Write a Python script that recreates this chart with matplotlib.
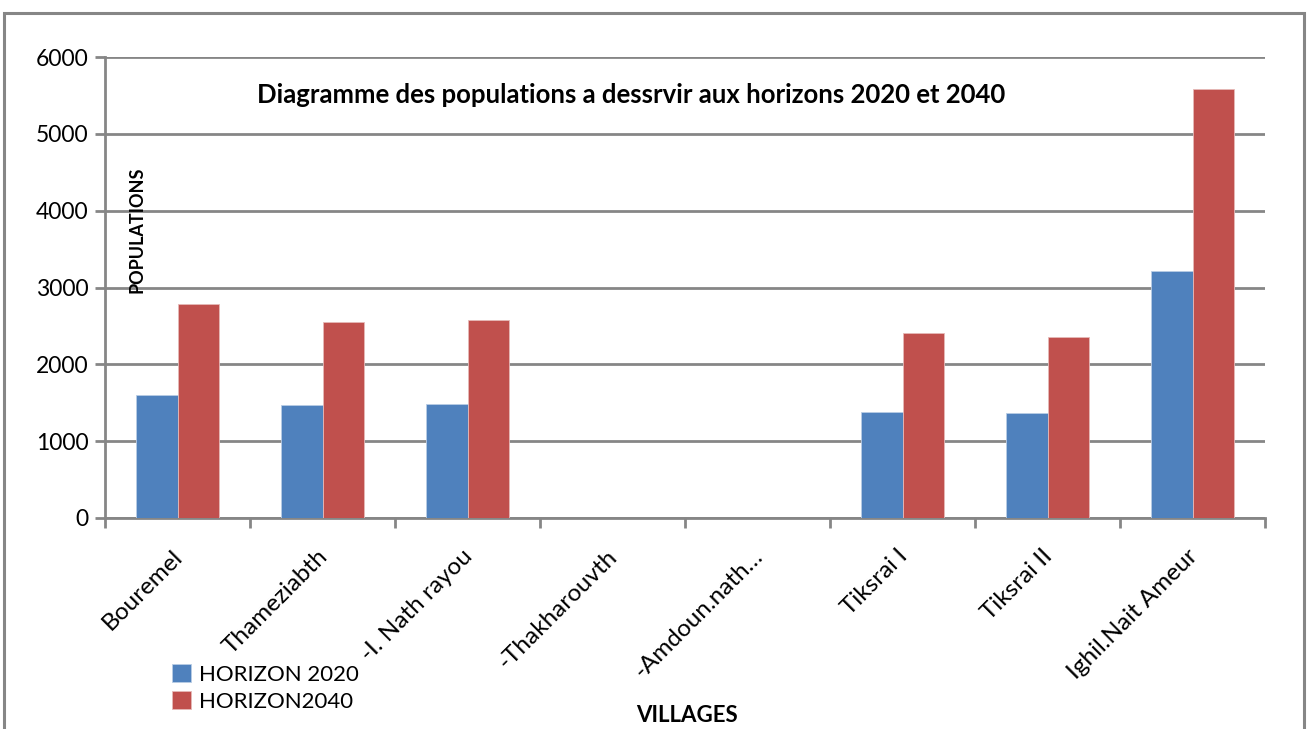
import matplotlib
matplotlib.use("Agg")
import matplotlib.pyplot as plt
import numpy as np
from matplotlib.patches import Rectangle

villages = ["Bouremel", "Thameziabth", "-I. Nath rayou", "-Thakharouvth",
            "-Amdoun.nath…", "Tiksrai I", "Tiksrai II", "Ighil.Nait Ameur"]
horizon_2020 = [1600, 1470, 1485, 0, 0, 1380, 1365, 3215]
horizon_2040 = [2790, 2555, 2575, 0, 0, 2410, 2360, 5585]
series_names = ["HORIZON 2020", "HORIZON2040"]
yticks = [0, 1000, 2000, 3000, 4000, 5000, 6000]

BLUE = "#4F81BD"
RED = "#C0504D"
GRID = "#868686"
FONT = "Lato"

W, H = 1308, 729
fig = plt.figure(figsize=(W / 100, H / 100), dpi=100)
# outer border
fig.patches.append(Rectangle((4 / W, -0.1), (1304 - 4) / W, 1.1 - 13 / H,
                             transform=fig.transFigure, fill=False,
                             edgecolor=GRID, linewidth=2.2, zorder=0))

ax = fig.add_axes([105 / W, 1 - 518 / H, (1265 - 105) / W, (518 - 57) / H])
x = np.arange(len(villages))
bw = 0.283
ax.bar(x - bw / 2, horizon_2020, bw, color=BLUE, label=series_names[0], zorder=3,
       edgecolor="#B9CDE5", linewidth=0.6)
ax.bar(x + bw / 2, horizon_2040, bw, color=RED, label=series_names[1], zorder=3,
       edgecolor="#E6B9B8", linewidth=0.6)

ax.set_xlim(-0.5, len(villages) - 0.5)
ax.set_ylim(0, 6000)
ax.set_yticks(yticks)
ax.set_yticklabels([str(v) for v in yticks], fontsize=16.5, family=FONT)
ax.yaxis.grid(True, color=GRID, linewidth=2, zorder=0)
ax.set_axisbelow(True)
for s in ["top", "right"]:
    ax.spines[s].set_visible(False)
for s in ["left", "bottom"]:
    ax.spines[s].set_color(GRID)
    ax.spines[s].set_linewidth(2)
ax.tick_params(axis="y", length=7, width=2, color=GRID, pad=5)

# x ticks at category boundaries
ax.set_xticks(np.arange(len(villages) + 1) - 0.5)
ax.set_xticklabels([])
ax.tick_params(axis="x", length=7, width=2, color=GRID)
for i, name in enumerate(villages):
    ax.text(i - 0.04, -360, name, rotation=45, ha="right", va="top",
            rotation_mode="anchor", fontsize=17.5, family=FONT,
            transform=ax.transData)

fig.text(631 / W, 1 - 95 / H, "Diagramme des populations a dessrvir aux horizons 2020 et 2040",
         ha="center", va="center", fontsize=18.5, fontweight="bold", family=FONT)
fig.text(137 / W, 1 - 230 / H, "POPULATIONS", rotation=90, ha="center", va="center",
         fontsize=13, fontweight="bold", family=FONT)
fig.text(687 / W, 1 - 716 / H, "VILLAGES", ha="center", va="center",
         fontsize=16, fontweight="bold", family=FONT)

handles, labels = ax.get_legend_handles_labels()
leg = fig.legend(handles, labels, loc="center left",
                 bbox_to_anchor=(172 / W, 1 - 688 / H), frameon=False,
                 prop={"family": FONT, "size": 16}, handlelength=0.85,
                 handleheight=0.85, handletextpad=0.35, labelspacing=0.3,
                 borderaxespad=0, borderpad=0)

fig.savefig("out.png", dpi=100)
